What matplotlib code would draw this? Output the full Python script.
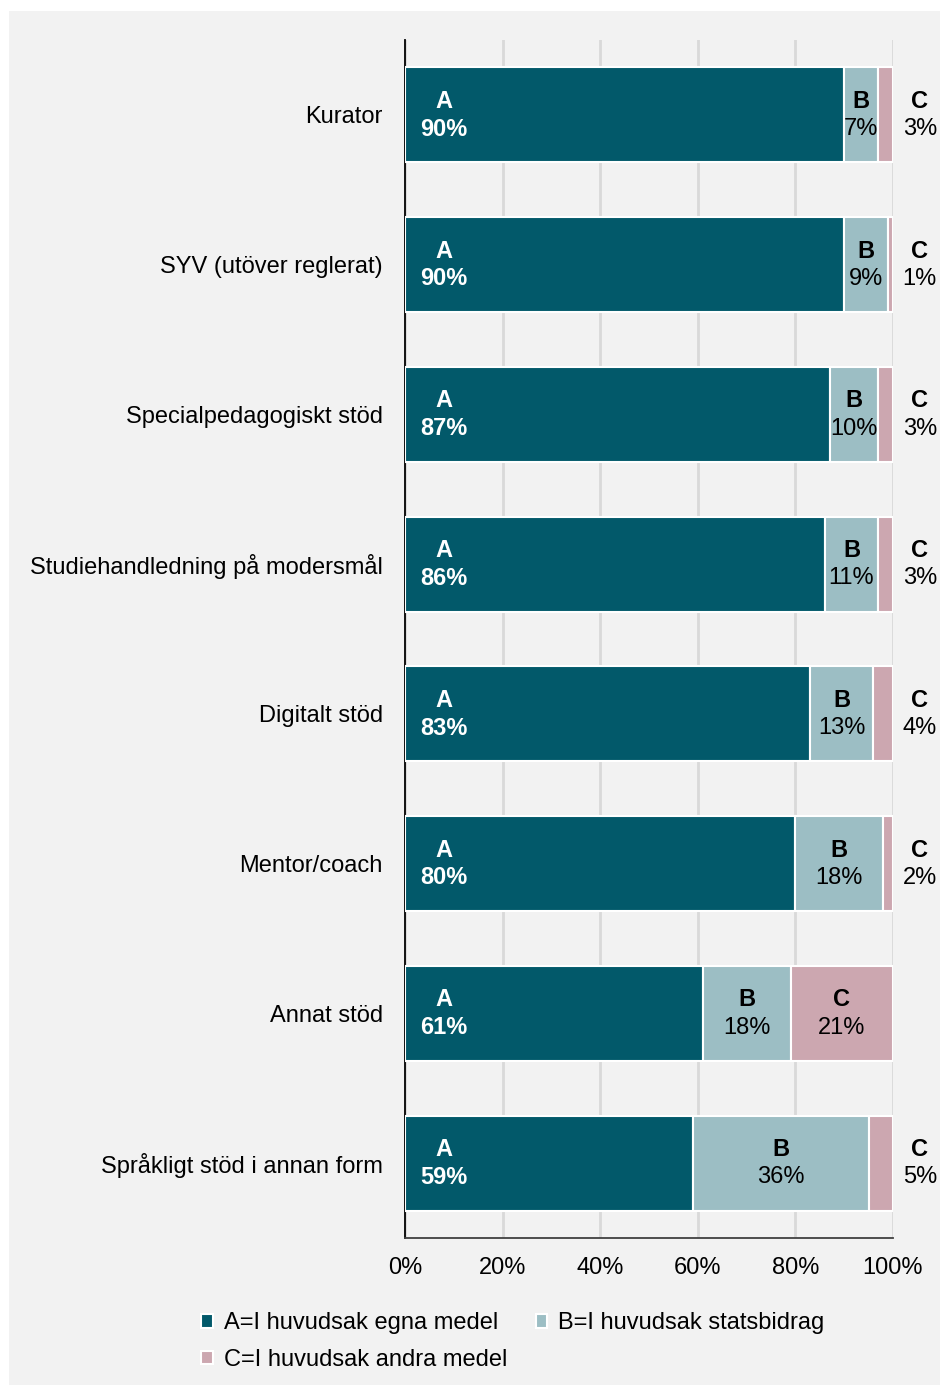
import matplotlib.pyplot as plt
from matplotlib.patches import Rectangle

plt.rcParams['font.family'] = ['Liberation Sans', 'DejaVu Sans']

# data
categories = [
    "Kurator",
    "SYV (utöver reglerat)",
    "Specialpedagogiskt stöd",
    "Studiehandledning på modersmål",
    "Digitalt stöd",
    "Mentor/coach",
    "Annat stöd",
    "Språkligt stöd i annan form",
]
a_vals = [90, 90, 87, 86, 83, 80, 61, 59]
b_vals = [7, 9, 10, 11, 13, 18, 18, 36]
c_vals = [3, 1, 3, 3, 4, 2, 21, 5]
legend_labels = ["A=I huvudsak egna medel", "B=I huvudsak statsbidrag", "C=I huvudsak andra medel"]
letters = ["A", "B", "C"]
xticks = [0, 20, 40, 60, 80, 100]

colors = ["#02596A", "#9CBEC4", "#CCA7B0"]
txt_colors = ["white", "black", "black"]

fig = plt.figure(figsize=(9.41, 13.85), dpi=100, facecolor="white")
# light grey panel behind everything
fig.patches.append(Rectangle((9 / 941, 0), 931 / 941, 1 - 11 / 1385, transform=fig.transFigure,
                             facecolor="#F2F2F2", edgecolor="none", zorder=-10))

ax = fig.add_axes([405 / 941, 1 - 1238 / 1385, 488 / 941, (1238 - 40) / 1385])
ax.set_facecolor("none")

y = list(range(len(categories)))
series = [a_vals, b_vals, c_vals]
bars = []
left = [0] * len(categories)
for k, vals in enumerate(series):
    b = ax.barh(y, vals, left=left, height=0.635, color=colors[k], edgecolor="white",
                linewidth=1.5, label=legend_labels[k], zorder=3)
    bars.append(b)
    for i, v in enumerate(vals):
        if k == 0:
            x = 8
        elif k == 2 and v < 10:
            x = 105.5
        else:
            x = left[i] + v / 2
        ax.text(x, y[i] - 0.09, letters[k], ha="center", va="center", fontsize=17,
                fontweight="bold", color=txt_colors[k], zorder=4, clip_on=False)
        ax.text(x, y[i] + 0.095, f"{v}%", ha="center", va="center", fontsize=17,
                color=txt_colors[k], zorder=4, clip_on=False,
                fontweight="bold" if k == 0 else "normal")
    left = [l + v for l, v in zip(left, vals)]

ax.set_ylim(len(categories) - 0.5, -0.5)
ax.set_xlim(0, 100)
ax.set_yticks(y)
ax.set_yticklabels(categories, fontsize=17)
ax.set_xticks(xticks)
ax.set_xticklabels([f"{t}%" for t in xticks], fontsize=17)
ax.tick_params(axis="both", length=0)
ax.tick_params(axis="y", pad=16)
ax.tick_params(axis="x", pad=14)
ax.xaxis.grid(True, color="#D9D9D9", linewidth=2, zorder=1)
ax.set_axisbelow(True)
for s in ["top", "right"]:
    ax.spines[s].set_visible(False)
ax.spines["left"].set_color("black")
ax.spines["left"].set_linewidth(1.3)
ax.spines["bottom"].set_color("#404040")
ax.spines["bottom"].set_linewidth(1.3)

# row-wise order: A, B on first row, C on second
order = [0, 2, 1]
fig.legend([bars[i] for i in order], [legend_labels[i] for i in order],
           loc="upper left", bbox_to_anchor=(192 / 941, 1 - 1303 / 1385), ncol=2,
           frameon=False, fontsize=17, handlelength=0.5, handleheight=0.5,
           handletextpad=0.45, columnspacing=1.2, labelspacing=0.6, borderaxespad=0)

fig.savefig("out.png", dpi=100, facecolor="white")
